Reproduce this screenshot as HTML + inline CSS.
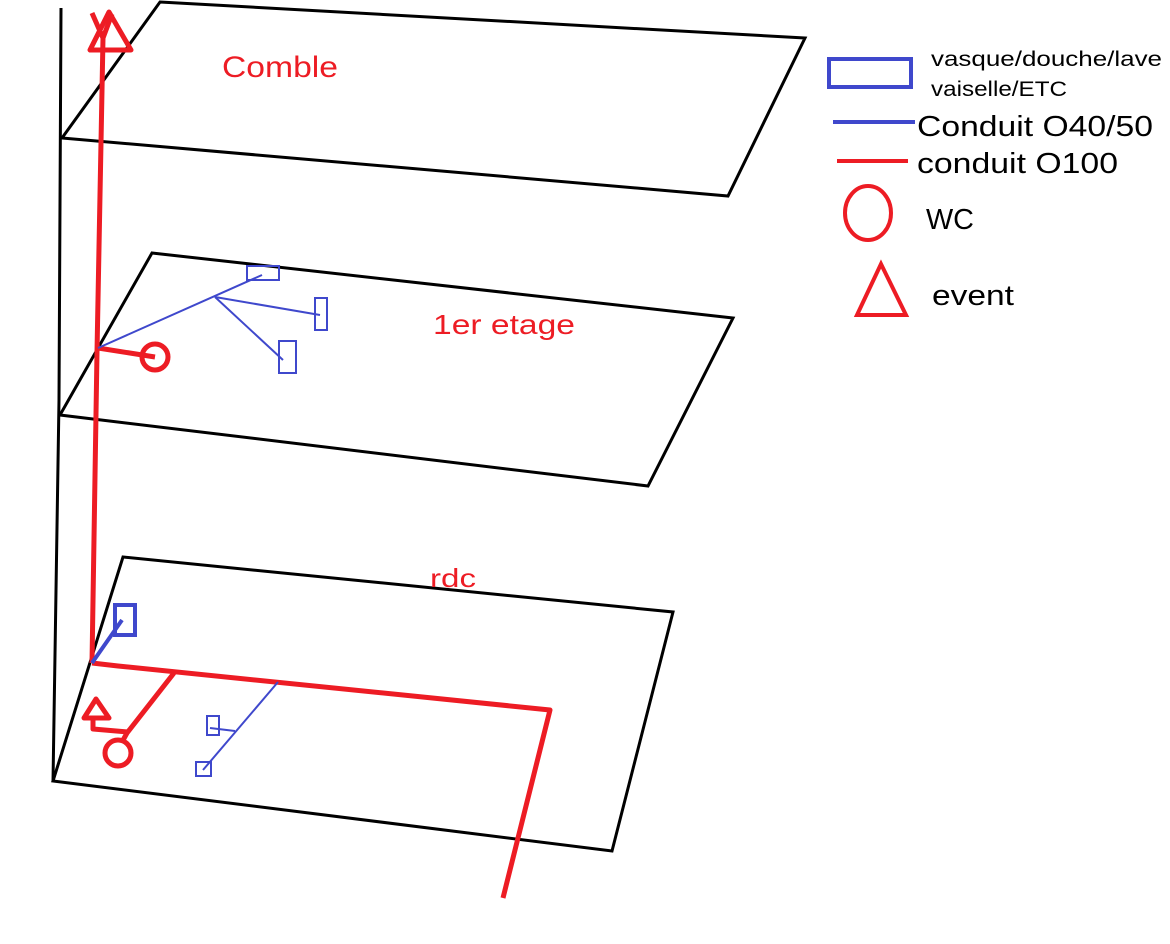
<!DOCTYPE html>
<html><head><meta charset="utf-8"><style>html,body{margin:0;padding:0;background:#fff}svg{display:block}text{font-family:"Liberation Sans",sans-serif}</style></head>
<body>
<svg width="1170" height="944" viewBox="0 0 1170 944" xmlns="http://www.w3.org/2000/svg">
<g fill="none" stroke="#000" stroke-width="3">
<polyline points="61,8 59,400 53,782"/>
<polygon points="160,2 805,38 728,196 62,138"/>
<polygon points="152,253 733,318 648,486 60,415"/>
<polygon points="123,557 673,612 612,851 53,781"/>
</g>
<g fill="none" stroke="#ed1c24" stroke-width="5" stroke-linejoin="round">
<polyline points="103,38 97,352 92,663"/>
<polygon points="109,12 90,50 131,50"/>
<polyline points="92,13 103,38 112,14"/>
<polyline points="98,348 155,357"/>
<circle cx="155" cy="357" r="13"/>
<polyline points="92,663 118,666 550,710 503,898"/>
<polyline points="174,673 127,733 122,742"/>
<circle cx="118" cy="753" r="13"/>
<polygon points="96,699 84,718 109,718"/>
<polyline points="93,718 93,729 128,732"/>
</g>
<g fill="none" stroke="#3f48cc" stroke-width="2">
<line x1="98" y1="348" x2="262" y2="275"/>
<line x1="215" y1="297" x2="320" y2="315"/>
<line x1="215" y1="297" x2="283" y2="360"/>
<rect x="247" y="266" width="32" height="14"/>
<rect x="315" y="298" width="12" height="32"/>
<rect x="279" y="341" width="17" height="32"/>
<line x1="278" y1="682" x2="203" y2="770"/>
<rect x="196" y="762" width="15" height="14"/>
<rect x="207" y="716" width="12" height="19"/>
<line x1="210" y1="728" x2="235" y2="731"/>
</g>
<g fill="none" stroke="#3f48cc" stroke-width="4">
<line x1="92" y1="663" x2="122" y2="620"/>
<rect x="115" y="605" width="20" height="30"/>
<rect x="829" y="59" width="82" height="28"/>
<line x1="833" y1="122" x2="915" y2="122"/>
</g>
<g fill="none" stroke="#ed1c24" stroke-width="4">
<line x1="837" y1="161" x2="908" y2="161"/>
<ellipse cx="868" cy="213" rx="23" ry="27"/>
<polygon points="881,264 857,315 906,315"/>
</g>
<g fill="#ed1c24">
<text x="222" y="77" font-size="30" textLength="116" lengthAdjust="spacingAndGlyphs">Comble</text>
<text x="433" y="334" font-size="28" textLength="142" lengthAdjust="spacingAndGlyphs">1er etage</text>
<text x="430" y="587" font-size="26" textLength="46" lengthAdjust="spacingAndGlyphs">rdc</text>
</g>
<g fill="#000">
<text x="931" y="66" font-size="21" textLength="231" lengthAdjust="spacingAndGlyphs">vasque/douche/lave</text>
<text x="931" y="96" font-size="21" textLength="136" lengthAdjust="spacingAndGlyphs">vaiselle/ETC</text>
<text x="917" y="136" font-size="29" textLength="236" lengthAdjust="spacingAndGlyphs">Conduit O40/50</text>
<text x="917" y="173" font-size="29" textLength="201" lengthAdjust="spacingAndGlyphs">conduit O100</text>
<text x="926" y="229" font-size="29" textLength="48" lengthAdjust="spacingAndGlyphs">WC</text>
<text x="932" y="305" font-size="29" textLength="82" lengthAdjust="spacingAndGlyphs">event</text>
</g>
</svg>
</body></html>
